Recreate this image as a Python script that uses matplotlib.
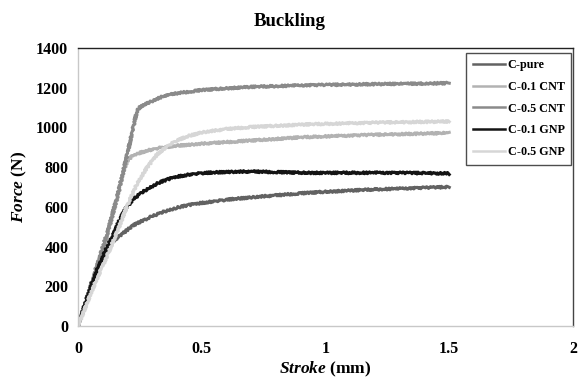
import matplotlib
matplotlib.use("Agg")
import matplotlib.pyplot as plt
from matplotlib.lines import Line2D

# Stroke (mm) / Force (N) points
pure_x = [0, 0.06, 0.1, 0.12, 0.14, 0.16, 0.18, 0.22, 0.26, 0.3, 0.35, 0.4, 0.45, 0.5, 0.6, 0.7, 0.8, 0.9, 1.0, 1.1, 1.2, 1.3, 1.4, 1.5]
pure_y = [0, 230, 350, 400, 425, 445, 465, 505, 530, 553, 577, 596, 610, 620, 636, 648, 658, 668, 676, 682, 688, 692, 696, 700]

cnt01_x = [0, 0.06, 0.12, 0.16, 0.185, 0.2, 0.215, 0.24, 0.28, 0.33, 0.4, 0.5, 0.6, 0.7, 0.8, 0.9, 1.0, 1.2, 1.4, 1.5]
cnt01_y = [0, 235, 470, 650, 785, 832, 852, 868, 884, 897, 908, 918, 926, 934, 942, 950, 955, 963, 969, 972]

cnt05_x = [0, 0.06, 0.12, 0.16, 0.2, 0.23, 0.24, 0.25, 0.27, 0.3, 0.35, 0.4, 0.5, 0.6, 0.7, 0.8, 0.9, 1.0, 1.2, 1.4, 1.5]
cnt05_y = [0, 240, 475, 660, 870, 1040, 1085, 1102, 1117, 1133, 1160, 1172, 1188, 1197, 1204, 1208, 1212, 1214, 1218, 1221, 1223]

gnp01_x = [0, 0.065, 0.118, 0.145, 0.17, 0.197, 0.225, 0.253, 0.29, 0.321, 0.36, 0.4, 0.45, 0.5, 0.6, 0.7, 0.8, 0.9, 1.0, 1.2, 1.4, 1.5]
gnp01_y = [0, 248, 399, 467, 540, 600, 640, 668, 697, 718, 738, 752, 763, 770, 776, 778, 775, 772, 771, 772, 770, 768]

gnp05_x = [0, 0.06, 0.12, 0.16, 0.2, 0.24, 0.28, 0.32, 0.36, 0.4, 0.45, 0.5, 0.6, 0.7, 0.8, 0.9, 1.0, 1.2, 1.5]
gnp05_y = [0, 190, 360, 480, 610, 720, 800, 865, 905, 935, 958, 975, 992, 1002, 1008, 1014, 1018, 1024, 1030]

labels = ["C-pure", "C-0.1 CNT", "C-0.5 CNT", "C-0.1 GNP", "C-0.5 GNP"]
colors = ["#626262", "#b2b2b2", "#8a8a8a", "#141414", "#d6d6d6"]

x_ticks = [0, 0.5, 1, 1.5, 2]
x_tick_labels = ["0", "0.5", "1", "1.5", "2"]
y_ticks = [0, 200, 400, 600, 800, 1000, 1200, 1400]

plt.rcParams["font.family"] = "Liberation Serif"
plt.rcParams["font.weight"] = "bold"
plt.rcParams["mathtext.fontset"] = "custom"
plt.rcParams["mathtext.bfit"] = "Liberation Serif:italic:bold"
plt.rcParams["mathtext.it"] = "Liberation Serif:italic:bold"

fig = plt.figure(figsize=(5.79, 3.83), dpi=100)
ax = fig.add_axes([78 / 579, 1 - 326 / 383, 495 / 579, 278 / 383])

series = [(pure_x, pure_y), (cnt01_x, cnt01_y), (cnt05_x, cnt05_y), (gnp01_x, gnp01_y), (gnp05_x, gnp05_y)]
handles = []
for (xs, ys), lab, col in zip(series, labels, colors):
    ln, = ax.plot(xs, ys, color=col, lw=2.2)
    # jagged look of the raw test signal
    ln.set_sketch_params(scale=1.0, length=3, randomness=2)
    handles.append(Line2D([], [], color=col, lw=1.8, label=lab))

ax.set_xlim(0, 2)
ax.set_ylim(0, 1400)
ax.set_xticks(x_ticks)
ax.set_xticklabels(x_tick_labels)
ax.set_yticks(y_ticks)
ax.tick_params(length=0, labelsize=11.5)
ax.tick_params(axis="x", pad=11)
ax.tick_params(axis="y", pad=7)
for lbl in ax.get_xticklabels() + ax.get_yticklabels():
    lbl.set_fontweight("bold")

ax.spines["left"].set_color("#c8c8c8")
ax.spines["bottom"].set_color("#c8c8c8")
ax.spines["top"].set_color("#222222")
ax.spines["right"].set_color("#444444")
for s in ax.spines.values():
    s.set_linewidth(1.0)

ax.set_xlabel(r"$\bfit{Stroke}$ (mm)", fontsize=12.5, fontweight="bold", labelpad=2)
ax.set_ylabel(r"$\bfit{Force}$ (N)", fontsize=12.5, fontweight="bold", labelpad=5)
fig.text(0.5, 1 - 21 / 383, "Buckling", ha="center", va="center", fontsize=13.5, fontweight="bold")

leg = ax.legend(handles=handles, loc="upper right", bbox_to_anchor=(1.0, 0.99), fontsize=8.7, frameon=True,
                fancybox=False, edgecolor="#222222", handlelength=2.6, handletextpad=0.25,
                labelspacing=0.8, borderpad=0.55, borderaxespad=0.15)
leg.get_frame().set_linewidth(1.0)
for t in leg.get_texts():
    t.set_fontweight("bold")

fig.savefig("out.png", dpi=100)
